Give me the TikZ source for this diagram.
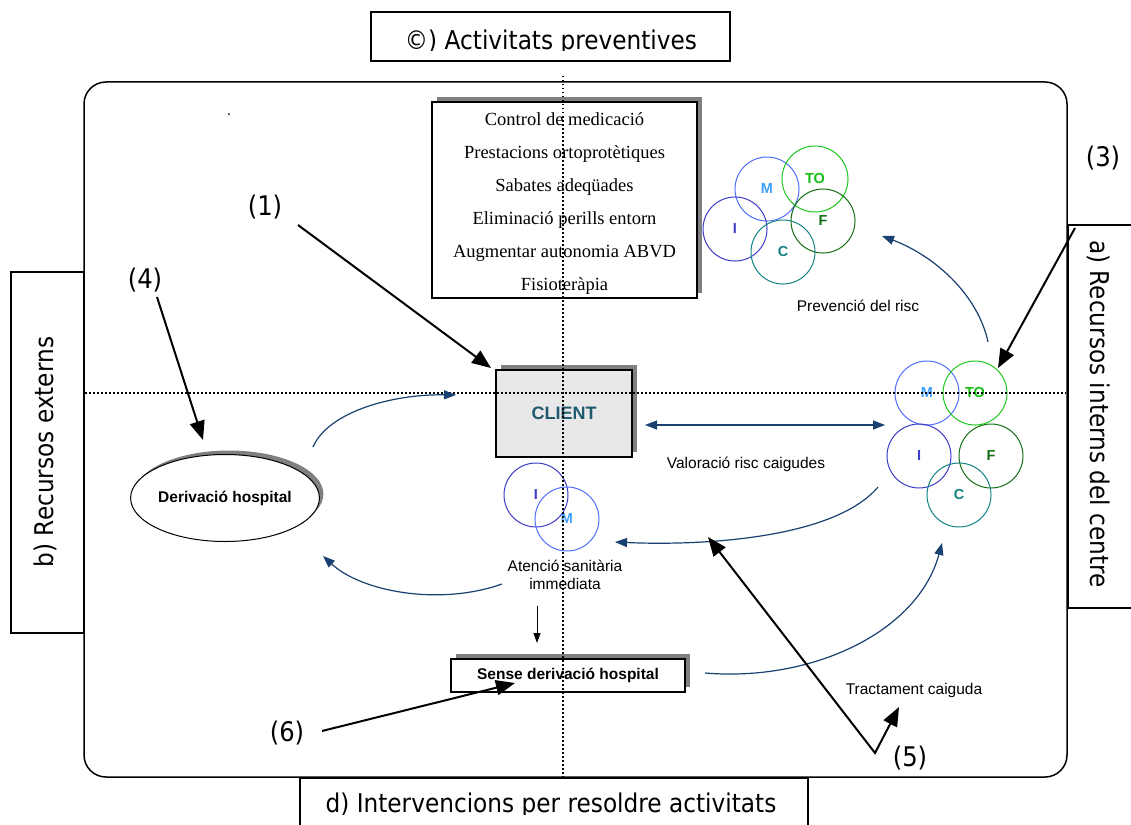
\documentclass[tikz,border=0pt]{standalone}
\usepackage{fontspec}
\setmainfont{Liberation Sans}
\newfontfamily\tahfont[FakeStretch=0.9]{DejaVu Sans}
\newfontfamily\timesfont{Liberation Serif}
\usetikzlibrary{arrows.meta,shapes.geometric,shadows,calc}

\definecolor{flowblue}{RGB}{24,64,112}
\definecolor{clienttxt}{RGB}{31,90,110}
\definecolor{mline}{RGB}{80,110,250}
\definecolor{mtxt}{RGB}{60,160,255}
\definecolor{toline}{RGB}{30,200,30}
\definecolor{totxt}{RGB}{20,190,20}
\definecolor{fline}{RGB}{20,110,20}
\definecolor{iline}{RGB}{60,60,200}
\definecolor{cline}{RGB}{20,130,130}
\definecolor{shadowgray}{RGB}{128,128,128}

\tikzset{
  bigtext/.style={font=\tahfont\fontsize{25.8}{30}\selectfont, inner sep=0pt},
  marker/.style={font=\tahfont\fontsize{27}{30}\selectfont, inner sep=0pt},
  small/.style={font=\fontsize{15.5}{18}\selectfont, inner sep=0pt, align=center},
  smallbold/.style={font=\bfseries\fontsize{15.5}{18}\selectfont},
  boxshadow/.style={drop shadow={shadow xshift=5pt, shadow yshift=5pt, fill=shadowgray, opacity=1}},
  sidebox/.style={draw, line width=1.3pt, inner sep=0pt, fill=white},
  member/.style={circle, draw=#1, line width=1pt, minimum size=64pt, inner sep=0pt,
    font=\bfseries\fontsize{14.5}{16}\selectfont},
  pointer/.style={line width=2pt, -{Triangle[length=19pt,width=15pt]}},
  flow/.style={draw=flowblue, line width=1.2pt, -{Triangle[length=12pt,width=9pt]}, fill=none},
  flowboth/.style={draw=flowblue, line width=1.2pt, {Triangle[length=12pt,width=9pt]}-{Triangle[length=12pt,width=9pt]}},
  axisline/.style={line width=1.3pt, dash pattern=on 1.5pt off 2.5pt},
}

\begin{document}
\begin{tikzpicture}[x=1pt,y=-1pt]
\useasboundingbox (0,0) rectangle (1131,824);

% outer frame of the centre
\node[draw, line width=1.5pt, rounded corners=22pt, minimum width=983pt, minimum height=695pt, inner sep=0pt]
  (frame) at (575.5,429.5) {};

% side and heading boxes
\node[draw, line width=1.3pt, minimum width=359pt, minimum height=49pt, inner sep=0pt] (prevbox) at (550.5,36.5) {};
\begin{scope}
  \clip (371,12) rectangle (730,51);
  \node[bigtext, anchor=base] (prevlabel) at (551,50) {©) Activitats preventives};
\end{scope}

\node[sidebox, minimum width=73pt, minimum height=361pt] (extbox) at (47.5,452.5) {};
\node[bigtext, rotate=90] (extlabel) at (45,452) {b) Recursos externs};

\node[sidebox, minimum width=80pt, minimum height=383pt] (intbox) at (1108,416.5) {};
\node[bigtext, rotate=-90] (intlabel) at (1099,414) {a) Recursos interns del centre};

\node[sidebox, minimum width=508pt, minimum height=54pt] (actbox) at (554,805) {};
\begin{scope}
  \clip (300,779) rectangle (808,814);
  \node[bigtext, anchor=base] (actlabel) at (551,812) {d) Intervencions per resoldre activitats};
\end{scope}

\node[small] (dot) at (229,115) {.};

% preventive activities
\node[draw, line width=2pt, fill=white, boxshadow, minimum width=265pt, minimum height=196pt, inner sep=0pt]
  (med) at (564.5,200) {};
\node[font=\timesfont\fontsize{18.5}{33}\selectfont, align=center, inner sep=0pt] (medtext) at (564.5,204)
  {Control de medicació\\Prestacions ortoprotètiques\\Sabates adeqüades\\Eliminació perills entorn\\Augmentar autonomia ABVD\\Fisioteràpia};

% client
\node[draw, line width=2pt, fill=black!9, boxshadow, minimum width=136pt, minimum height=87pt, inner sep=0pt,
  font=\bfseries\fontsize{18}{20}\selectfont, text=clienttxt] (client) at (564,413.5) {CLIENT};

% hospital referral
\node[ellipse, draw, line width=1pt, fill=white,
  drop shadow={shadow xshift=4pt, shadow yshift=4pt, fill=shadowgray, opacity=1},
  minimum width=178pt, minimum height=87pt, inner sep=0pt, smallbold] (derv) at (225,498) {Derivació hospital};

\node[draw, line width=2pt, fill=white, boxshadow, minimum width=234pt, minimum height=33pt, inner sep=0pt, smallbold]
  (sense) at (568,675.5) {Sense derivació hospital};

% professional team: prevention
\node[member=mline, text=mtxt] (pM) at (767,189) {M};
\node[member=toline, text=totxt, minimum size=66pt] (pTO) at (815,179) {TO};
\node[member=fline, text=fline] (pF) at (823,221) {F};
\node[member=iline, text=iline] (pI) at (735,229) {I};
\node[member=cline, text=cline] (pC) at (783,252) {C};

% professional team: assessment and treatment
\node[member=mline, text=mtxt] (rM) at (927,393) {M};
\node[member=toline, text=totxt] (rTO) at (975,393) {TO};
\node[member=iline, text=iline] (rI) at (919,456) {I};
\node[member=fline, text=fline] (rF) at (991,456) {F};
\node[member=cline, text=cline] (rC) at (959,495) {C};

% immediate care
\node[member=iline, text=iline] (aI) at (536,495) {I};
\node[member=mline, text=mtxt] (aM) at (567,519) {M};

% labels
\node[small] (lprev) at (858,306) {Prevenció del risc};
\node[small] (lval) at (746,464) {Valoració risc caigudes};
\node[small] (lat) at (565,575) {Atenció sanitària\\immediata};
\node[small] (ltract) at (914,690) {Tractament caiguda};

% dotted axes
\draw[axisline] (563,76) -- (563,777);
\draw[axisline] (85,393) -- (1066,393);

% flows
\coordinate (aFrom) at (313,447);
\coordinate (aTo) at (456,395);
\draw[flow] (aFrom) .. controls (328,412) and (392,394) .. (aTo);

\coordinate (vL) at (645,425);
\coordinate (vR) at (885,425);
\draw[flowboth] (vL) -- (vR);

\coordinate (cFrom) at (988,342);
\coordinate (cTo) at (882,236);
\draw[flow] (cFrom) .. controls (978,295) and (935,256) .. (cTo);

\coordinate (dFrom) at (878,487);
\coordinate (dTo) at (615,542);
\draw[flow] (dFrom) .. controls (835,538) and (705,546) .. (dTo);

\coordinate (eFrom) at (502,584);
\coordinate (eTo) at (323,556);
\draw[flow] (eFrom) .. controls (440,606) and (362,592) .. (eTo);

\coordinate (fFrom) at (705,673);
\coordinate (fTo) at (942,543);
\draw[flow] (fFrom) .. controls (812,682) and (918,632) .. (fTo);

\coordinate (downFrom) at (537,606);
\coordinate (downTo) at (537,643);
\draw[line width=1pt, -{Triangle[length=10pt,width=7pt]}] (downFrom) -- (downTo);

% numbered pointers
\node[marker] (n1) at (265,207) {(1)};
\node[marker] (n3) at (1103,158) {(3)};
\node[marker] (n4) at (145,280) {(4)};
\node[marker] (n6) at (287,733) {(6)};
\node[marker] (n5) at (910,758) {(5)};

\coordinate (p1) at (298,225);
\coordinate (p1t) at (491,368);
\draw[pointer] (p1) -- (p1t);

\coordinate (p3) at (1075,228);
\coordinate (p3t) at (998,368);
\draw[pointer] (p3) -- (p3t);

\coordinate (p4) at (157,297);
\coordinate (p4t) at (203,440);
\draw[pointer] (p4) -- (p4t);

\coordinate (p6) at (322,731);
\coordinate (p6t) at (515,683);
\draw[pointer] (p6) -- (p6t);

\coordinate (v5) at (875,753);
\coordinate (p5a) at (708,537);
\coordinate (p5b) at (899,707);
\draw[line width=2pt, {Triangle[length=19pt,width=15pt]}-{Triangle[length=19pt,width=15pt]}, line join=miter]
  (p5a) -- (v5) -- (p5b);
\end{tikzpicture}
\end{document}
